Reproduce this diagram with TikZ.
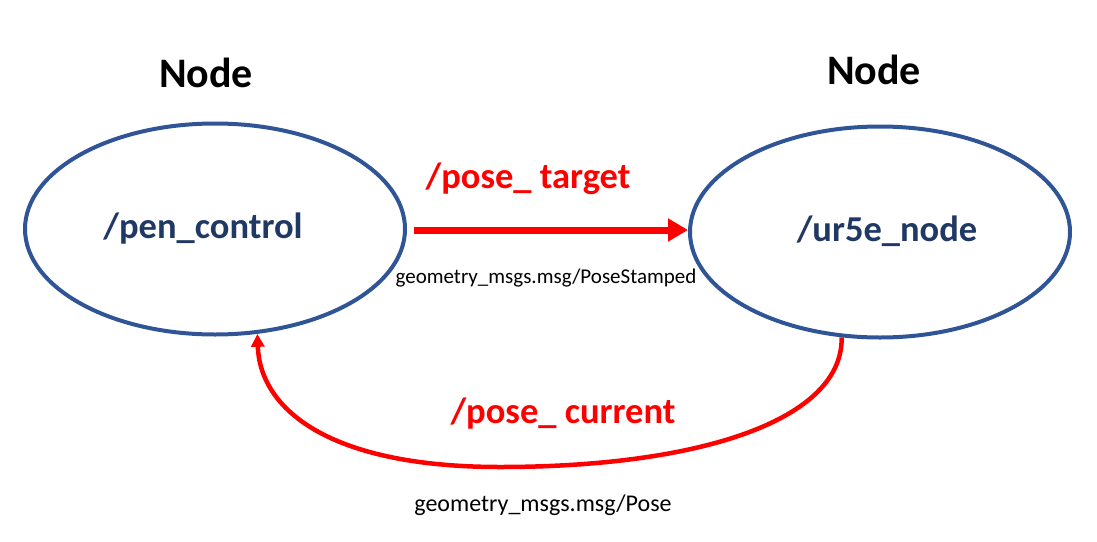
\documentclass[tikz,border=0pt]{standalone}
\usepackage{fontspec}
\setmainfont{Carlito}
\usetikzlibrary{shapes.geometric,arrows.meta}
\definecolor{ellblue}{HTML}{2F5597}
\definecolor{txtblue}{HTML}{203864}
\definecolor{topicred}{HTML}{FF0000}
\tikzset{
  rosnode/.style={ellipse, draw=ellblue, line width=4pt, minimum width=380pt, minimum height=211pt, inner sep=0pt},
  nodename/.style={font=\fontsize{36.5}{44}\selectfont\bfseries, text=txtblue},
  nodetitle/.style={font=\fontsize{42}{50}\selectfont\bfseries, text=black},
  topic/.style={font=\fontsize{36.5}{44}\selectfont\bfseries, text=topicred},
  msgtype/.style={font=\fontsize{21}{25}\selectfont, text=black},
  msgtypebig/.style={font=\fontsize{24}{29}\selectfont, text=black},
  topicarrow/.style={draw=topicred},
}
\begin{document}
\begin{tikzpicture}[x=1pt,y=-1pt]
\useasboundingbox (0,0) rectangle (1097,541);
\node[rosnode] (pc) at (215,229) {};
\node[rosnode] (ur) at (880,232) {};
\node[nodename] (pcl) at (203,229) {/pen\_control};
\node[nodename] (url) at (887,231) {/ur5e\_node};
\node[nodetitle] (t1) at (206,73) {Node};
\node[nodetitle] (t2) at (874,70) {Node};
\draw[topicarrow, line width=7pt, -{Triangle[length=20pt,width=22pt]}] ([xshift=7pt]pc.east |- 0,230) -- (ur.west |- 0,230);
\node[topic] (pt) at (528,179) {/pose\_ target};
\node[msgtype] (ps) at (546,278) {geometry\_msgs.msg/PoseStamped};
\draw[topicarrow, line width=4.5pt, -{Triangle[length=13pt,width=13pt]}]
  (ur.250) .. controls (843,420) and (700,467) .. (500,467)
  .. controls (330,467) and (260,410) .. (pc.292);
\node[topic] (pcur) at (563,414) {/pose\_ current};
\node[msgtypebig] (pm) at (543,505) {geometry\_msgs.msg/Pose};
\end{tikzpicture}
\end{document}
